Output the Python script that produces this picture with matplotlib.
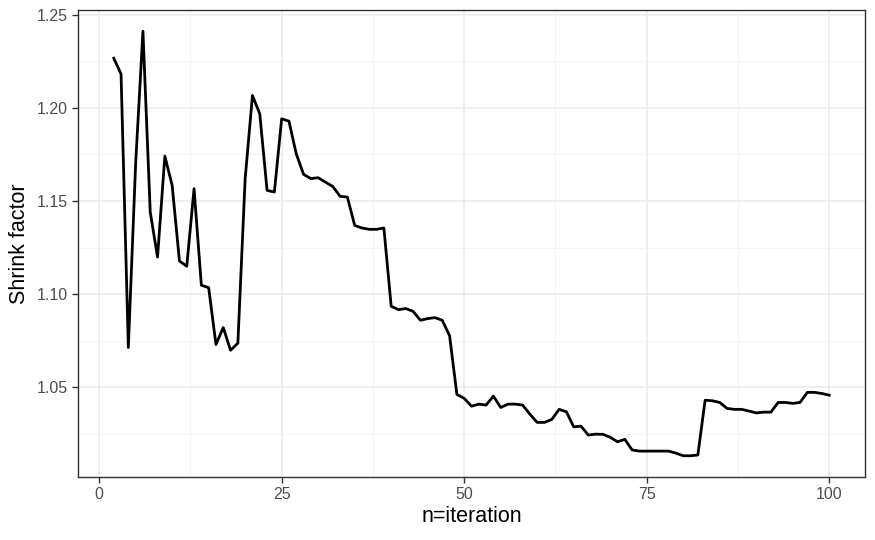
import matplotlib
matplotlib.use('Agg')
import matplotlib.pyplot as plt
from matplotlib.ticker import MultipleLocator

plt.rcParams['font.family'] = ['Liberation Sans', 'DejaVu Sans']

# Shrink factor per iteration
iterations = list(range(2, 101))
shrink = [
    1.2266, 1.2182, 1.0714, 1.1700, 1.2411, 1.1440, 1.1199, 1.1741, 1.1584,  # 2-10
    1.1178, 1.1150, 1.1566, 1.1048, 1.1035, 1.0730, 1.0821, 1.0699, 1.0737,  # 11-19
    1.1620, 1.2066, 1.1968, 1.1557, 1.1548, 1.1941, 1.1928, 1.1753, 1.1643,  # 20-28
    1.1620, 1.1625, 1.1601, 1.1578, 1.1525, 1.1521, 1.1369, 1.1355, 1.1348,  # 29-37
    1.1348, 1.1355, 1.0935, 1.0917, 1.0923, 1.0908, 1.0860, 1.0869, 1.0874,  # 38-46
    1.0860, 1.0777, 1.0462, 1.0441, 1.0399, 1.0410, 1.0405, 1.0453, 1.0392,  # 47-55
    1.0410, 1.0410, 1.0405, 1.0356, 1.0312, 1.0312, 1.0328, 1.0382, 1.0369,  # 56-64
    1.0288, 1.0292, 1.0244, 1.0249, 1.0248, 1.0232, 1.0208, 1.0221, 1.0164,  # 65-73
    1.0158, 1.0158, 1.0158, 1.0158, 1.0158, 1.0147, 1.0133, 1.0133, 1.0137,  # 74-82
    1.0431, 1.0428, 1.0419, 1.0387, 1.0382, 1.0382, 1.0373, 1.0363, 1.0367,  # 83-91
    1.0367, 1.0419, 1.0419, 1.0414, 1.0419, 1.0473, 1.0473, 1.0467, 1.0458,  # 92-100
]
x_ticks = [0, 25, 50, 75, 100]
y_ticks = [1.05, 1.10, 1.15, 1.20, 1.25]

fig = plt.figure(figsize=(8.75, 5.4), dpi=100)
ax = fig.add_axes([0.0891, 0.1167, 0.8995, 0.8648])

ax.plot(iterations, shrink, color='black', linewidth=2.0, solid_joinstyle='round', zorder=3)

# ggplot-like expansion (5% of range)
xr = max(iterations) - min(iterations)
yr = max(shrink) - min(shrink)
ax.set_xlim(min(iterations) - 0.05 * xr, max(iterations) + 0.05 * xr)
ax.set_ylim(min(shrink) - 0.05 * yr, max(shrink) + 0.05 * yr)

ax.set_xticks(x_ticks)
ax.set_yticks(y_ticks)
ax.set_yticklabels([f'{v:.2f}' for v in y_ticks])
ax.xaxis.set_minor_locator(MultipleLocator(12.5))
ax.yaxis.set_minor_locator(MultipleLocator(0.025))

ax.grid(which='major', color='#EBEBEB', linewidth=1.1, zorder=0)
ax.grid(which='minor', color='#F2F2F2', linewidth=0.6, zorder=0)
ax.set_axisbelow(True)

for s in ax.spines.values():
    s.set_color('#333333')
    s.set_linewidth(1.0)

ax.tick_params(which='major', length=4, width=1.0, color='#333333',
               labelsize=11.5, labelcolor='#4D4D4D', pad=3)
ax.tick_params(which='minor', length=0)

ax.set_xlabel('n=iteration', fontsize=15.5, color='black', labelpad=3)
ax.set_ylabel('Shrink factor', fontsize=15.5, color='black', labelpad=5)

fig.savefig('out.png', dpi=100)
